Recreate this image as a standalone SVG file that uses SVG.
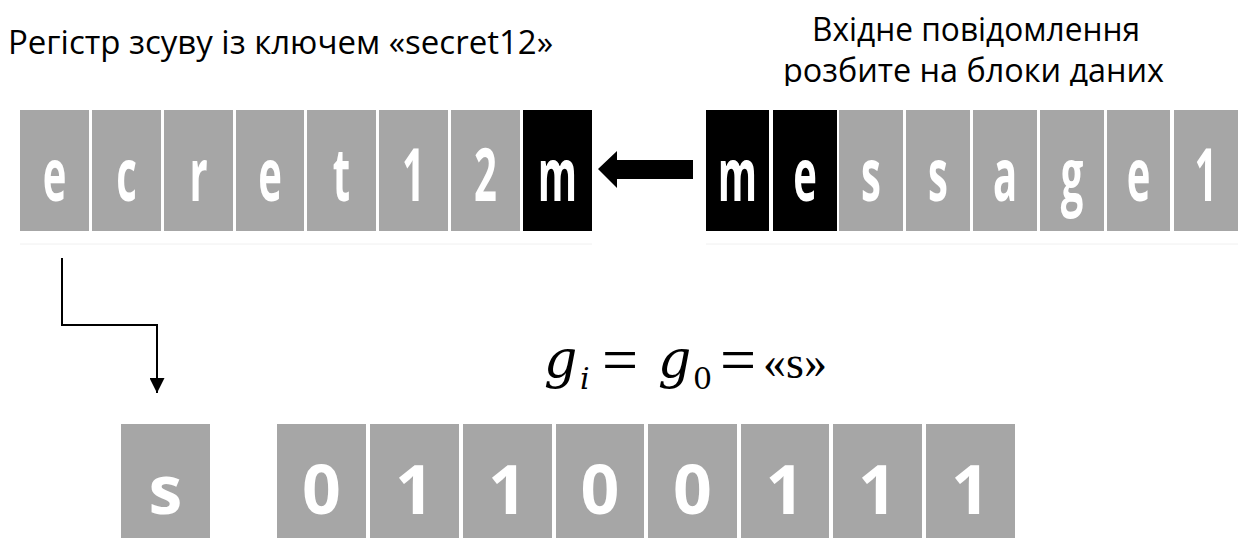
<svg xmlns="http://www.w3.org/2000/svg" width="1240" height="538" viewBox="0 0 1240 538">
  <style>
    .cap { font-family: "Open Sans", "Liberation Sans", sans-serif; font-size: 32px; fill: #000; }
    .cell { fill: #a6a6a6; }
    .cell-on { fill: #000; }
    .glyph { font-family: "Open Sans", "Liberation Sans", sans-serif; font-weight: 700; font-size: 40px; fill: #fff; text-anchor: middle; }
    .bit { font-family: "Open Sans", "Liberation Sans", sans-serif; font-weight: 700; font-size: 68px; fill: #fff; text-anchor: middle; }
    .math { font-family: "DejaVu Serif", "Liberation Serif", serif; fill: #000; }
    .times { font-family: "Liberation Serif", serif; fill: #000; }
    .wire { fill: none; stroke: #000; stroke-width: 2; }
    .shade { fill: none; stroke: #f0f0f0; stroke-width: 1; }
  </style>
  <defs>
    <marker id="tri" viewBox="0 0 15 15" refX="15" refY="7.5" markerWidth="15" markerHeight="15" markerUnits="userSpaceOnUse" orient="auto">
      <path d="M0,0 L15,7.5 L0,15 Z" fill="#000"/>
    </marker>
    <clipPath id="cut"><rect x="700" y="0" width="540" height="86"/></clipPath>
  </defs>

  <rect width="1240" height="538" fill="#fff"/>

  <!-- captions -->
  <g id="caption-register">
    <text class="cap" x="8" y="54" textLength="545" lengthAdjust="spacingAndGlyphs">Регістр зсуву із ключем «secret12»</text>
  </g>
  <g id="caption-message" clip-path="url(#cut)">
    <text class="cap" x="812" y="41" textLength="328" lengthAdjust="spacingAndGlyphs">Вхідне повідомлення</text>
    <text class="cap" x="783" y="82" textLength="381" lengthAdjust="spacingAndGlyphs">розбите на блоки даних</text>
  </g>

  <!-- shift register -->
  <g id="register">
    <path class="shade" d="M20,244 H592"/>
    <rect class="cell" x="20" y="110" width="69" height="121"/>
    <rect class="cell" x="92" y="110" width="69" height="121"/>
    <rect class="cell" x="164" y="110" width="69" height="121"/>
    <rect class="cell" x="236" y="110" width="68" height="121"/>
    <rect class="cell" x="307" y="110" width="69" height="121"/>
    <rect class="cell" x="379" y="110" width="69" height="121"/>
    <rect class="cell" x="451" y="110" width="69" height="121"/>
    <rect class="cell-on" x="523" y="110" width="69" height="121"/>
    <g transform="translate(54.5,201) scale(1,1.85)"><text class="glyph">e</text></g>
    <g transform="translate(126.5,201) scale(1,1.85)"><text class="glyph">c</text></g>
    <g transform="translate(198.5,201) scale(1,1.85)"><text class="glyph">r</text></g>
    <g transform="translate(270,201) scale(1,1.85)"><text class="glyph">e</text></g>
    <g transform="translate(341.5,201) scale(1,1.85)"><text class="glyph">t</text></g>
    <g transform="translate(413.5,201) scale(1,1.85)"><text class="glyph">1</text></g>
    <g transform="translate(485.5,201) scale(1,1.85)"><text class="glyph">2</text></g>
    <g transform="translate(557.5,201) scale(1,1.85)"><text class="glyph">m</text></g>
  </g>

  <!-- input message blocks -->
  <g id="message">
    <path class="shade" d="M706,244 H1238"/>
    <rect class="cell-on" x="706" y="110" width="63" height="121"/>
    <rect class="cell-on" x="773" y="110" width="64" height="121"/>
    <rect class="cell" x="839" y="110" width="64" height="121"/>
    <rect class="cell" x="906" y="110" width="64" height="121"/>
    <rect class="cell" x="973" y="110" width="64" height="121"/>
    <rect class="cell" x="1040" y="110" width="64" height="121"/>
    <rect class="cell" x="1107" y="110" width="63" height="121"/>
    <rect class="cell" x="1174" y="110" width="64" height="121"/>
    <g transform="translate(737.5,201) scale(1,1.85)"><text class="glyph">m</text></g>
    <g transform="translate(805,201) scale(1,1.85)"><text class="glyph">e</text></g>
    <g transform="translate(871,201) scale(1,1.85)"><text class="glyph">s</text></g>
    <g transform="translate(938,201) scale(1,1.85)"><text class="glyph">s</text></g>
    <g transform="translate(1005,201) scale(1,1.85)"><text class="glyph">a</text></g>
    <g transform="translate(1072,201) scale(1,1.85)"><text class="glyph">g</text></g>
    <g transform="translate(1138.5,201) scale(1,1.85)"><text class="glyph">e</text></g>
    <g transform="translate(1206,201) scale(1,1.85)"><text class="glyph">1</text></g>
  </g>

  <!-- output symbol -->
  <g id="symbol">
    <rect class="cell" x="121" y="424" width="89" height="114"/>
    <text class="bit" x="165.5" y="514">s</text>
  </g>

  <!-- binary code of the symbol -->
  <g id="bits">
    <rect class="cell" x="277" y="424" width="89" height="114"/>
    <rect class="cell" x="370" y="424" width="89" height="114"/>
    <rect class="cell" x="463" y="424" width="89" height="114"/>
    <rect class="cell" x="556" y="424" width="88" height="114"/>
    <rect class="cell" x="648" y="424" width="89" height="114"/>
    <rect class="cell" x="741" y="424" width="88" height="114"/>
    <rect class="cell" x="833" y="424" width="89" height="114"/>
    <rect class="cell" x="926" y="424" width="89" height="114"/>
    <text class="bit" x="321.5" y="514">0</text>
    <text class="bit" x="414.5" y="514">1</text>
    <text class="bit" x="507.5" y="514">1</text>
    <text class="bit" x="600" y="514">0</text>
    <text class="bit" x="692.5" y="514">0</text>
    <text class="bit" x="785" y="514">1</text>
    <text class="bit" x="877.5" y="514">1</text>
    <text class="bit" x="970.5" y="514">1</text>
  </g>

  <!-- formula -->
  <g id="formula">
    <text class="math" x="544" y="377" font-size="52" font-style="italic">g</text>
    <text class="math" x="580" y="389" font-size="30" font-style="italic">i</text>
    <text class="times" x="602" y="381" font-size="64">=</text>
    <text class="math" x="658" y="377" font-size="52" font-style="italic">g</text>
    <text class="math" x="693" y="389" font-size="30">0</text>
    <text class="times" x="720" y="381" font-size="64">=</text>
    <text class="times" x="763" y="378" font-size="46">«s»</text>
  </g>

  <!-- connectors -->
  <g id="connectors">
    <polygon points="598,169 617,151 617,160 693,160 693,179 617,179 617,188" fill="#000"/>
    <polyline class="wire" points="62,258 62,325 157,325 157,393" marker-end="url(#tri)"/>
  </g>
</svg>
